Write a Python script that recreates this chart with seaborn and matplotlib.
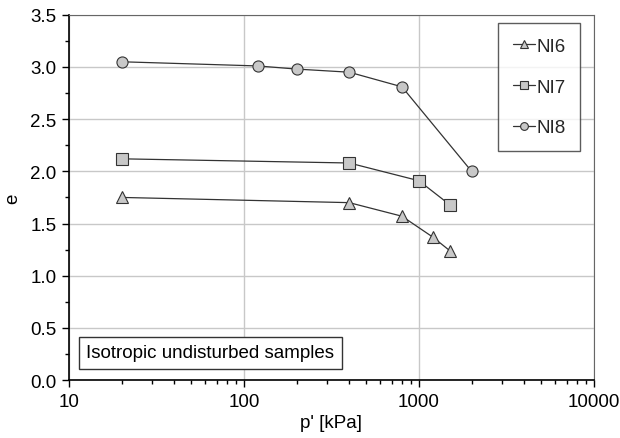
import matplotlib
matplotlib.use("Agg")
import matplotlib.pyplot as plt
import seaborn as sns
import pandas as pd
import numpy as np
from matplotlib.ticker import FixedLocator, NullFormatter

sns.set_theme(style="white")
plt.rcParams['font.family'] = ['Liberation Sans', 'DejaVu Sans']

ni6_p = [20, 400, 800, 1200, 1500]
ni6_e = [1.75, 1.70, 1.57, 1.37, 1.24]
ni7_p = [20, 400, 1000, 1500]
ni7_e = [2.12, 2.08, 1.91, 1.68]
ni8_p = [20, 120, 200, 400, 800, 2000]
ni8_e = [3.05, 3.01, 2.98, 2.95, 2.81, 2.00]

series = [("NI6", ni6_p, ni6_e, "^"), ("NI7", ni7_p, ni7_e, "s"), ("NI8", ni8_p, ni8_e, "o")]

FS = 13.5

fig = plt.figure(figsize=(6.2, 4.39), dpi=100)
ax = fig.add_axes([0.111, 0.132, 0.847, 0.832])

for name, p, e, m in series:
    df = pd.DataFrame({"p": p, "e": e})
    sns.lineplot(data=df, x="p", y="e", ax=ax, color="#333333", linewidth=0.9,
                 marker=m, markersize=8, markerfacecolor="#c8c8c8",
                 markeredgecolor="#333333", markeredgewidth=0.8, label=name)

ax.set_xscale("log")
ax.set_xlim(10, 10000)
ax.set_ylim(0, 3.5)
ax.set_yticks(np.arange(0, 3.51, 0.5))
ax.set_yticklabels([f"{v:.1f}" for v in np.arange(0, 3.51, 0.5)])
ax.set_xticks([10, 100, 1000, 10000])
ax.set_xticklabels(["10", "100", "1000", "10000"])
minor = [k * 10**d for d in range(1, 4) for k in range(2, 10)]
ax.xaxis.set_minor_locator(FixedLocator(minor))
ax.xaxis.set_minor_formatter(NullFormatter())
ax.yaxis.set_minor_locator(FixedLocator(np.arange(0.25, 3.5, 0.5)))

ax.grid(True, which="major", color="#c8c8c8", linewidth=1.0)
ax.set_axisbelow(True)
for s in ["top", "right"]:
    ax.spines[s].set_visible(True)
    ax.spines[s].set_color("#666666")
    ax.spines[s].set_linewidth(0.8)
for s in ["left", "bottom"]:
    ax.spines[s].set_color("black")
    ax.spines[s].set_linewidth(1.2)

ax.tick_params(axis="both", which="major", direction="out", length=5, width=1,
               color="black", labelsize=FS, labelcolor="black", bottom=True, left=True, pad=4)
ax.tick_params(axis="both", which="minor", direction="out", length=3, width=1,
               color="black", bottom=True, left=True)

ax.set_xlabel("p' [kPa]", fontsize=FS, color="black", labelpad=3)
ax.set_ylabel("e", fontsize=FS, color="black", labelpad=6)

leg = ax.legend(loc="upper right", bbox_to_anchor=(0.974, 0.978), fontsize=FS,
                frameon=True, fancybox=False, edgecolor="#333333",
                handlelength=1.2, handletextpad=0.05, labelspacing=1.25,
                borderpad=0.8, markerscale=0.7, borderaxespad=0)
leg.get_frame().set_linewidth(1.0)
leg.get_frame().set_facecolor("white")

ax.text(0.033, 0.075, "Isotropic undisturbed samples", transform=ax.transAxes,
        fontsize=FS, color="black", va="center", ha="left",
        bbox=dict(boxstyle="square,pad=0.4", facecolor="white", edgecolor="#333333", linewidth=1.0))

fig.savefig("out.png", dpi=100)
